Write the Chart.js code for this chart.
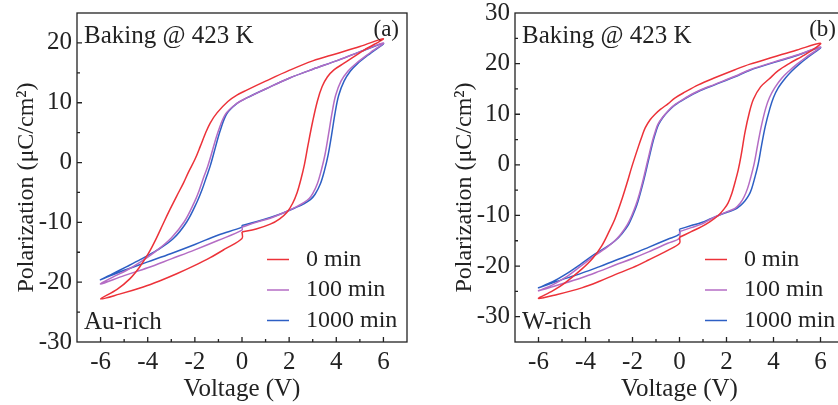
<!DOCTYPE html>
<html>
<head>
<meta charset="utf-8">
<script src="https://cdn.jsdelivr.net/npm/chart.js@4.4.1/dist/chart.umd.min.js"></script>
<style>
  html, body { margin: 0; padding: 0; background: #fff; overflow: hidden; }
  #wrap { position: relative; width: 838px; height: 405px; overflow: hidden; }
  canvas { position: absolute; top: 0; }
</style>
</head>
<body>
<div id="wrap">
  <canvas id="chart-a" width="420" height="405" style="left:0"></canvas>
  <canvas id="chart-b" width="420" height="405" style="left:438px"></canvas>
</div>
<script>
// legend labels and tick labels
const seriesLabels = ['0 min', '100 min', '1000 min'];
const xTicks = [-6, -4, -2, 0, 2, 4, 6];
const yTicksA = [-30, -20, -10, 0, 10, 20];
const yTicksB = [-30, -20, -10, 0, 10, 20, 30];

// (a) Au-rich, loops in measurement order: 0 -> +6 -> -6 -> 0
const voltA0 = [0, 0.6, 1.2, 1.6, 1.91, 2.15, 2.34, 2.5, 2.65, 2.8, 3.0, 3.2, 3.4, 3.62, 3.9, 4.33, 5.18, 6.0,
  5, 4, 3, 2, 1, 0.2, -0.2, -0.6, -1.06, -1.35, -1.55, -1.77, -2.0, -2.27, -2.48, -2.77, -3.05, -3.33, -3.65, -3.97, -4.35, -4.75, -5.3, -6.0,
  -5.2, -4.19, -3.5, -2.77, -2.0, -1.35, -0.7, 0, 0];
const polA0 = [-11.6, -11.1, -10.3, -9.4, -8.3, -6.8, -5.0, -2.8, -0.3, 2.9, 6.9, 10.3, 12.7, 14.3, 15.5, 16.6, 18.8, 20.7,
  19.4, 18.2, 17.0, 15.4, 13.6, 12.1, 11.3, 10.2, 8.3, 6.6, 4.9, 2.7, 0.5, -1.6, -3.4, -5.6, -7.8, -10.1, -12.8, -15.2, -17.5, -19.4, -21.2, -22.8,
  -22.0, -20.8, -19.8, -18.6, -17.2, -15.9, -14.4, -12.7, -11.6];

const voltA100 = [0, 0.6, 1.2, 1.77, 2.3, 2.62, 2.85, 3.0, 3.2, 3.37, 3.52, 3.67, 3.82, 3.97, 4.2, 4.5, 4.85, 5.45, 6.0,
  5, 4, 3, 2, 1, 0.2, -0.25, -0.7, -1.0, -1.3, -1.46, -1.61, -1.82, -2.03, -2.45, -3.0, -3.65, -4.3, -4.89, -5.5, -6.0,
  -5, -4, -3, -2, -1, 0, 0];
const polA100 = [-10.8, -10.0, -9.3, -8.4, -7.4, -6.7, -6.0, -5.2, -3.5, -1.2, 1.3, 4.7, 8.3, 11.2, 13.6, 15.3, 16.6, 18.4, 20.0,
  18.5, 17.0, 15.6, 14.1, 12.3, 10.8, 9.8, 8.1, 5.3, 1.4, -0.7, -2.3, -4.7, -6.7, -9.9, -12.6, -14.8, -16.6, -18.0, -19.2, -20.3,
  -18.9, -17.6, -16.1, -14.6, -13.0, -11.3, -10.8];

const voltA1000 = [0, 0.6, 1.2, 1.77, 2.3, 2.62, 2.9, 3.1, 3.33, 3.5, 3.65, 3.8, 3.95, 4.1, 4.33, 4.6, 4.89, 5.46, 6.0,
  5, 4, 3, 2, 1, 0.2, -0.21, -0.64, -0.92, -1.2, -1.35, -1.49, -1.7, -1.91, -2.34, -2.91, -3.62, -4.3, -4.89, -5.5, -6.0,
  -5, -4, -3, -2, -1, 0, 0];
const polA1000 = [-10.5, -9.9, -9.2, -8.4, -7.5, -6.9, -6.2, -5.3, -3.5, -1.3, 1.2, 4.6, 8.3, 11.2, 13.6, 15.3, 16.5, 18.3, 19.9,
  18.5, 17.0, 15.6, 14.1, 12.3, 10.8, 9.9, 8.2, 5.4, 1.5, -0.6, -2.2, -4.6, -6.6, -9.9, -12.7, -14.7, -16.2, -17.4, -18.6, -19.6,
  -18.0, -16.6, -15.2, -13.7, -12.1, -10.8, -10.5];

// (b) W-rich
const voltB0 = [0, 0.5, 0.94, 1.3, 1.65, 1.9, 2.07, 2.23, 2.36, 2.5, 2.62, 2.79, 2.97, 3.15, 3.45, 3.8, 4.2, 4.7, 5.2, 5.6, 6.0,
  5, 4, 3, 2.36, 1.5, 0.8, 0.24, -0.2, -0.48, -0.8, -1.04, -1.25, -1.46, -1.6, -1.75, -2.03, -2.24, -2.45, -2.74, -3.0, -3.31, -3.7, -4.16, -4.87, -5.4, -6.0,
  -5.2, -4.16, -3.4, -2.74, -2.0, -1.32, -0.5, 0, 0];
const polB0 = [-14.3, -13.2, -12.2, -11.2, -10.0, -8.7, -7.5, -5.6, -3.5, -1.0, 1.8, 6.5, 10.3, 13.0, 15.4, 16.9, 18.6, 20.1, 21.4, 22.5, 24.0,
  22.7, 21.3, 19.9, 18.8, 17.2, 15.8, 14.4, 13.2, 12.1, 11.0, 10.0, 8.9, 7.3, 5.6, 3.6, -0.4, -3.7, -6.8, -10.6, -13.2, -16.0, -18.5, -20.6, -23.3, -24.9, -26.4,
  -25.6, -24.3, -23.0, -21.7, -20.3, -18.8, -16.9, -15.5, -14.3];

const voltB100 = [0, 0.5, 0.94, 1.3, 1.65, 2.0, 2.36, 2.58, 2.75, 2.9, 3.03, 3.18, 3.32, 3.48, 3.67, 3.83, 4.05, 4.35, 4.65, 5.0, 5.4, 6.0,
  5, 4, 3, 2.36, 1.5, 0.8, 0.24, -0.2, -0.48, -0.72, -0.92, -1.03, -1.14, -1.35, -1.56, -1.71, -1.86, -2.04, -2.22, -2.5, -2.8, -3.15, -3.6, -4.2, -4.87, -5.4, -6.0,
  -5.2, -4.16, -3.4, -2.74, -2.0, -1.32, -0.5, 0, 0];
const polB100 = [-13.2, -12.4, -11.7, -10.8, -10.0, -9.3, -8.6, -7.6, -6.3, -4.6, -2.5, 0.3, 3.8, 7.6, 11.2, 13.3, 15.2, 17.1, 18.5, 19.9, 21.3, 23.3,
  21.7, 20.3, 18.8, 17.5, 15.9, 14.6, 13.2, 11.9, 10.7, 9.4, 8.0, 6.6, 4.9, 0.9, -3.2, -5.8, -8.0, -10.1, -11.8, -13.7, -15.2, -16.5, -17.9, -20.0, -22.3, -23.7, -24.9,
  -23.8, -22.3, -21.0, -19.8, -18.5, -17.2, -15.5, -14.5, -13.2];

const voltB1000 = [0, 0.5, 0.94, 1.3, 1.65, 2.0, 2.36, 2.6, 2.79, 2.95, 3.07, 3.2, 3.35, 3.49, 3.65, 3.85, 4.0, 4.2, 4.5, 4.77, 5.1, 5.48, 6.0,
  5, 4, 3, 2.36, 1.5, 0.8, 0.24, -0.2, -0.48, -0.7, -0.89, -1.0, -1.11, -1.32, -1.53, -1.68, -1.82, -2.0, -2.17, -2.45, -2.74, -3.1, -3.59, -4.2, -4.87, -5.4, -6.0,
  -5.2, -4.16, -3.4, -2.74, -2.0, -1.32, -0.5, 0, 0];
const polB1000 = [-12.7, -12.0, -11.4, -10.7, -10.0, -9.4, -8.8, -8.0, -7.1, -6.0, -4.7, -2.6, 0.2, 3.8, 7.6, 11.2, 13.3, 15.2, 17.1, 18.5, 19.9, 21.3, 23.2,
  21.6, 20.2, 18.7, 17.4, 15.8, 14.5, 13.1, 11.8, 10.6, 9.4, 8.0, 6.6, 4.9, 0.9, -3.2, -5.8, -8.0, -10.1, -11.8, -13.6, -15.0, -16.2, -17.6, -19.6, -21.7, -23.1, -24.3,
  -23.0, -21.4, -20.1, -18.9, -17.6, -16.3, -14.7, -13.7, -12.7];

const lineColors = ['#ec3239', '#b46cc4', '#2d5fc4'];
const serif = '"Liberation Serif", "Times New Roman", serif';

Chart.defaults.font.family = serif;
Chart.defaults.font.size = 25;
Chart.defaults.color = '#222';

// box round the plot area and inward ticks
const framePlugin = {
  id: 'frame',
  afterDatasetsDraw(chart) {
    const { ctx, chartArea: a, scales: { x, y } } = chart;
    ctx.save();
    ctx.strokeStyle = '#222';
    ctx.lineWidth = 1.3;
    ctx.strokeRect(a.left, a.top, a.right - a.left, a.bottom - a.top);
    ctx.beginPath();
    for (let v = x.min + 1; v < x.max; v++) {
      const px = x.getPixelForValue(v);
      const len = v % 2 === 0 ? 5 : 3;
      ctx.moveTo(px, a.bottom);
      ctx.lineTo(px, a.bottom - len);
    }
    for (let v = y.min + 5; v < y.max; v += 5) {
      const py = y.getPixelForValue(v);
      const len = v % 10 === 0 ? 5 : 3;
      ctx.moveTo(a.left, py);
      ctx.lineTo(a.left + len, py);
    }
    ctx.stroke();
    ctx.restore();
  }
};

// panel texts, y title and the legend inside the plot
const notesPlugin = {
  id: 'notes',
  afterDraw(chart, args, opts) {
    const { ctx, chartArea: a } = chart;
    ctx.save();
    ctx.fillStyle = '#222';
    ctx.font = '25px ' + serif;
    ctx.textAlign = 'left';
    ctx.textBaseline = 'alphabetic';
    ctx.fillText(opts.title, a.left + 7, a.top + 29.5);
    ctx.fillText(opts.sample, a.left + 7, a.bottom - 13.5);
    ctx.font = '23px ' + serif;
    ctx.textAlign = 'right';
    ctx.fillText(opts.panel, a.right - 8, a.top + 22.5);

    // y axis title
    ctx.save();
    ctx.translate(27, 187.5);
    ctx.rotate(-Math.PI / 2);
    ctx.font = '24px ' + serif;
    ctx.textAlign = 'center';
    ctx.textBaseline = 'middle';
    ctx.fillText('Polarization (μC/cm²)', 0, 0);
    ctx.restore();

    ctx.font = '24px ' + serif;
    ctx.textAlign = 'left';
    ctx.textBaseline = 'middle';
    chart.data.datasets.forEach((ds, i) => {
      const yy = a.top + 246.5 + i * 30.5;
      ctx.strokeStyle = ds.borderColor;
      ctx.lineWidth = 1.5;
      ctx.beginPath();
      ctx.moveTo(a.left + 190, yy);
      ctx.lineTo(a.left + 212, yy);
      ctx.stroke();
      ctx.fillText(ds.label, a.left + 229, yy);
    });
    ctx.restore();
  }
};

function makeChart(id, series, yMin, yMax, yTicks, padRight, notes) {
  return new Chart(document.getElementById(id), {
    type: 'scatter',
    data: {
      datasets: series.map((s, i) => ({
        label: seriesLabels[i],
        data: s[0].map((v, k) => ({ x: v, y: s[1][k] })),
        showLine: true,
        borderColor: lineColors[i],
        borderWidth: 1.5,
        pointRadius: 0,
        tension: 0.35,
        fill: false
      }))
    },
    options: {
      responsive: false,
      animation: false,
      layout: { padding: { top: 13, right: padRight, left: 0, bottom: 0 } },
      plugins: {
        legend: { display: false },
        tooltip: { enabled: false },
        notes: notes
      },
      scales: {
        x: {
          type: 'linear',
          min: -7,
          max: 7,
          afterBuildTicks: sc => { sc.ticks = xTicks.map(v => ({ value: v })); },
          afterFit: sc => { sc.height = 63; sc.paddingLeft = 0; sc.paddingRight = 0; },
          grid: { display: false, drawTicks: false },
          border: { display: false },
          ticks: { padding: 5, maxRotation: 0, autoSkip: false },
          title: { display: true, text: 'Voltage (V)', padding: { top: 0, bottom: 1 } }
        },
        y: {
          type: 'linear',
          min: yMin,
          max: yMax,
          afterBuildTicks: sc => { sc.ticks = yTicks.map(v => ({ value: v })); },
          afterFit: sc => { sc.width = 77; sc.paddingTop = 0; sc.paddingBottom = 0; },
          grid: { display: false, drawTicks: false },
          border: { display: false },
          ticks: { padding: 5, autoSkip: false }
        }
      }
    },
    plugins: [framePlugin, notesPlugin]
  });
}

makeChart('chart-a', [[voltA0, polA0], [voltA100, polA100], [voltA1000, polA1000]],
  -30, 25, yTicksA, 13, { title: 'Baking @ 423 K', sample: 'Au-rich', panel: '(a)' });
makeChart('chart-b', [[voltB0, polB0], [voltB100, polB100], [voltB1000, polB1000]],
  -35, 30, yTicksB, 14, { title: 'Baking @ 423 K', sample: 'W-rich', panel: '(b)' });
</script>
</body>
</html>
